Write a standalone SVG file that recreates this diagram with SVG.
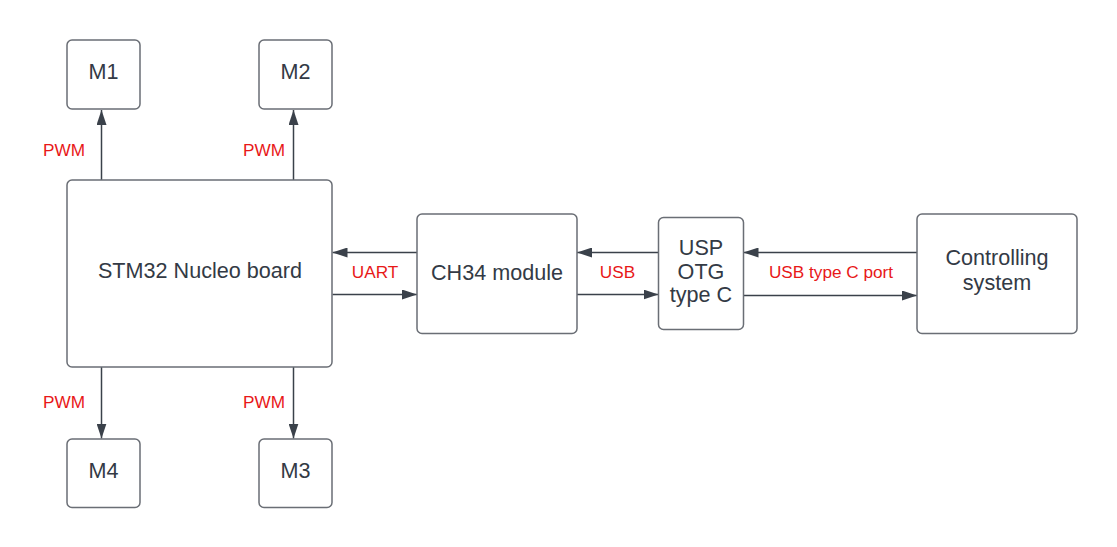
<svg xmlns="http://www.w3.org/2000/svg" width="1117" height="547" viewBox="0 0 1117 547">
<style>
.box{fill:#ffffff;stroke:#6a6e75;stroke-width:1.5}
.t{font-family:"Liberation Sans",Arial,sans-serif;font-size:21.6px;fill:#333a45;text-anchor:middle}
.lbl{font-family:"Liberation Sans",Arial,sans-serif;font-size:17.2px;fill:#e81818}
.c{stroke:#3a414a;stroke-width:1.5;fill:none;marker-end:url(#ah)}
</style>
<defs>
<marker id="ah" viewBox="0 0 15 10" refX="15" refY="5" markerWidth="15" markerHeight="10" markerUnits="userSpaceOnUse" orient="auto">
<path d="M0,0 L15,5 L0,10 Z" fill="#3a414a"/>
</marker>
</defs>
<rect width="1117" height="547" fill="#ffffff"/>
<g id="connectors">
<line class="c" x1="101.5" y1="180" x2="101.5" y2="110"/>
<line class="c" x1="293.5" y1="180" x2="293.5" y2="110"/>
<line class="c" x1="101.5" y1="367" x2="101.5" y2="438.5"/>
<line class="c" x1="293.5" y1="367" x2="293.5" y2="438.5"/>
<line class="c" x1="417" y1="252.5" x2="332.5" y2="252.5"/>
<line class="c" x1="332.5" y1="294.5" x2="417" y2="294.5"/>
<line class="c" x1="658.5" y1="252.5" x2="577" y2="252.5"/>
<line class="c" x1="577" y1="294.5" x2="658.5" y2="294.5"/>
<line class="c" x1="917" y1="252.5" x2="743.5" y2="252.5"/>
<line class="c" x1="743.5" y1="295.5" x2="917" y2="295.5"/>
<text class="lbl" x="43" y="156">PWM</text>
<text class="lbl" x="243" y="156">PWM</text>
<text class="lbl" x="43" y="408">PWM</text>
<text class="lbl" x="243" y="408">PWM</text>
<text class="lbl" x="375" y="278" text-anchor="middle">UART</text>
<text class="lbl" x="617.5" y="278" text-anchor="middle">USB</text>
<text class="lbl" x="831" y="277.5" text-anchor="middle">USB type C port</text>
</g>
<g id="m1"><rect class="box" x="67" y="40" width="73" height="69" rx="5"/><text class="t" x="103.5" y="79">M1</text></g>
<g id="m2"><rect class="box" x="259" y="40" width="73" height="69" rx="5"/><text class="t" x="295.5" y="79">M2</text></g>
<g id="m4"><rect class="box" x="67" y="439" width="73" height="68.5" rx="5"/><text class="t" x="103.5" y="477.5">M4</text></g>
<g id="m3"><rect class="box" x="259" y="439" width="73" height="68.5" rx="5"/><text class="t" x="295.5" y="477.5">M3</text></g>
<g id="stm32"><rect class="box" x="67" y="180" width="265" height="187" rx="5"/><text class="t" x="200" y="277.5">STM32 Nucleo board</text></g>
<g id="ch34"><rect class="box" x="417" y="214" width="160" height="119.5" rx="5"/><text class="t" x="497" y="280">CH34 module</text></g>
<g id="otg"><rect class="box" x="658.5" y="217.5" width="85" height="112" rx="5"/><text class="t" x="701"><tspan x="701" y="255">USP</tspan><tspan x="701" y="278.5">OTG</tspan><tspan x="701" y="302">type C</tspan></text></g>
<g id="ctrl"><rect class="box" x="917" y="214" width="160" height="119.5" rx="5"/><text class="t" x="997"><tspan x="997" y="265">Controlling</tspan><tspan x="997" y="290">system</tspan></text></g>
</svg>
